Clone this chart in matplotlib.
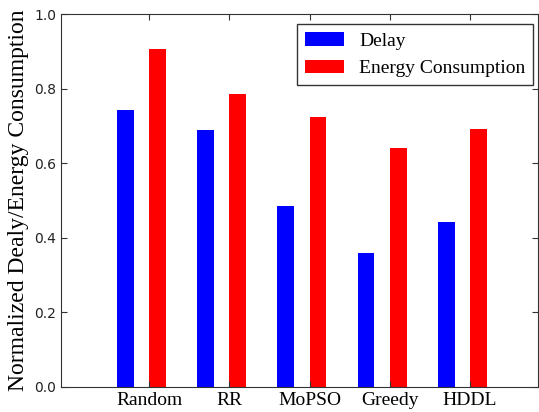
import numpy as np
import matplotlib.pyplot as plt

methods = ['Random', 'RR', 'MoPSO', 'Greedy', 'HDDL']
delay = [0.743, 0.689, 0.485, 0.359, 0.442]
energy = [0.906, 0.786, 0.724, 0.641, 0.692]

fig = plt.figure(figsize=(5.39, 4.12), dpi=100)
ax = fig.add_axes([61/539, 25/412, 477/539, 373/412])

x = np.arange(1, len(methods) + 1)
w = 0.21
ax.bar(x - 0.4, delay, w, align='edge', color='#0000ff', linewidth=0, label='Delay')
ax.bar(x, energy, w, align='edge', color='#ff0000', linewidth=0, label='Energy Consumption')

ax.set_xlim(-0.1, 5.85)
ax.set_ylim(0, 1.0)
ax.set_xticks(x)
ax.set_xticklabels(methods, family='Liberation Serif', fontsize=14)
ax.set_yticks([0.0, 0.2, 0.4, 0.6, 0.8, 1.0])
ax.tick_params(axis='y', labelsize=10, labelcolor='#222222')
ax.tick_params(direction='in', top=True, right=True, length=4, color='#333333')
for s in ax.spines.values():
    s.set_color('#333333')
ax.set_ylabel('Normalized Dealy/Energy Consumption', family='Liberation Serif', fontsize=17, labelpad=4)

leg = ax.legend(loc='upper right', prop={'family': 'Liberation Serif', 'size': 14},
                fancybox=False, framealpha=1, bbox_to_anchor=(0.99, 0.972),
                borderaxespad=0)
leg.get_frame().set_edgecolor('#333333')
leg.get_frame().set_linewidth(1.0)

fig.savefig('out.png', dpi=100)
